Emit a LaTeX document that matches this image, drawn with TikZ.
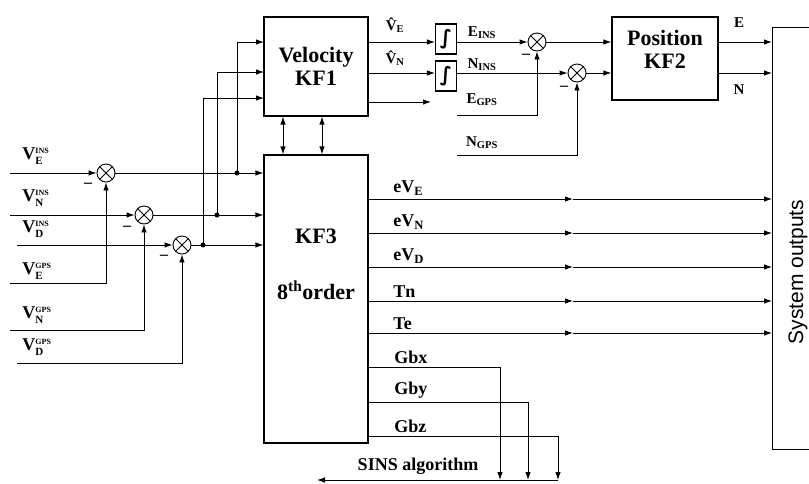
\documentclass[tikz,border=0pt]{standalone}
\usepackage{fontspec}
\setmainfont{Liberation Serif}
\setsansfont{Liberation Sans}
\newfontfamily\symfont{DejaVu Sans}
\usetikzlibrary{arrows.meta}

\newcommand{\vsig}[2]{V$^{\mbox{\fontsize{8}{8}\selectfont #2}}_{\mbox{\fontsize{11}{11}\selectfont #1}}$}
\newcommand{\vhat}[1]{\^{V}\textsubscript{#1}}

\tikzset{
  arr/.style={-{Latex[length=8pt,width=5.5pt]}},
  darr/.style={{Latex[length=8pt,width=5.5pt]}-{Latex[length=8pt,width=5.5pt]}},
  box/.style={draw, line width=1.2pt, align=center, font=\fontsize{22}{23}\selectfont\bfseries},
  boxtxt/.style={align=center, inner sep=0pt, font=\fontsize{22}{23}\selectfont\bfseries},
  sumnode/.style={draw, circle, minimum size=18pt, inner sep=0pt,
    path picture={\draw (path picture bounding box.north west) -- (path picture bounding box.south east)
      (path picture bounding box.north east) -- (path picture bounding box.south west);}},
  intbox/.style={draw, line width=1.2pt, minimum width=21pt, minimum height=30pt, inner sep=0pt,
    font=\symfont\bfseries\fontsize{20}{20}\selectfont},
  lab/.style={inner sep=1pt, font=\fontsize{18}{20}\selectfont\bfseries},
  slab/.style={inner sep=1pt, font=\fontsize{15}{16}\selectfont\bfseries},
  vlab/.style={anchor=west, inner sep=0pt, font=\fontsize{18}{20}\selectfont\bfseries},
  minus/.style={inner sep=0pt, font=\fontsize{16}{16}\selectfont\bfseries},
  dot/.style={circle, fill, inner sep=0pt, minimum size=5pt}
}

\begin{document}
\begin{tikzpicture}[x=1pt, y=-1pt, line width=0.9pt]
    \useasboundingbox (0,0) rectangle (809,483);
    % Bloques de los filtros
    \node[box, minimum width=104, minimum height=99] (kf1) at (316,66.5) {Velocity\\KF1};
    \node[box, minimum width=104, minimum height=288] (kf3) at (316,299) {};
    \node[boxtxt] (kf3t) at (316,264) {KF3\\[33pt]8\textsuperscript{th}order};
    \node[box, minimum width=106, minimum height=83] (kf2) at (665,58.5) {};
    \node[boxtxt] (kf2t) at (665,49) {Position\\KF2};
    \node[box, anchor=north west, minimum width=60, minimum height=422] (sys) at (772,27) {};
    \node[rotate=90, font=\sffamily\fontsize{21}{24}\selectfont] (syst) at (798,272) {System outputs};
    % Sumadores
    \node[sumnode] (s1) at (106,173) {};
    \node[sumnode] (s2) at (144,215) {};
    \node[sumnode] (s3) at (182,245) {};
    \node[sumnode] (s4) at (537,42) {};
    \node[sumnode] (s5) at (577,73) {};
    \node[minus] (m1) at (88,185) {--};
    \node[minus] (m2) at (127,228) {--};
    \node[minus] (m3) at (164,257) {--};
    \node[minus] (m4) at (526,56) {--};
    \node[minus] (m5) at (564,88) {--};
    % Integradores
    \node[intbox] (i1) at (446,39) {∫};
    \node[intbox] (i2) at (446,76) {∫};

    % Entradas INS y GPS
    \node[vlab] (lve) at (22,156) {\vsig{E}{INS}};
    \node[vlab] (lvn) at (22,198) {\vsig{N}{INS}};
    \node[vlab] (lvd) at (22,229) {\vsig{D}{INS}};
    \node[vlab] (lge) at (22,271) {\vsig{E}{GPS}};
    \node[vlab] (lgn) at (22,315) {\vsig{N}{GPS}};
    \node[vlab] (lgd) at (22,347) {\vsig{D}{GPS}};
    \coordinate (ve) at (10,173);
    \coordinate (vn) at (10,215);
    \coordinate (vd) at (17,245);
    \coordinate (ge) at (10,283);
    \coordinate (gn) at (10,330);
    \coordinate (gd) at (17,363);
    \draw[arr] (ve) -- (s1);
    \draw[arr] (vn) -- (s2);
    \draw[arr] (vd) -- (s3);
    \draw[arr] (ge) -| (s1);
    \draw[arr] (gn) -| (s2);
    \draw[arr] (gd) -| (s3);

    % Errores hacia KF3 y KF1
    \draw[arr] (s1) -- (s1 -| kf3.west);
    \draw[arr] (s2) -- (s2 -| kf3.west);
    \draw[arr] (s3) -- (s3 -| kf3.west);
    \node[dot] (d1) at (237,173) {};
    \node[dot] (d2) at (217,215) {};
    \node[dot] (d3) at (203,245) {};
    \coordinate (k1) at (264,42);
    \coordinate (k2) at (264,72);
    \coordinate (k3) at (264,98);
    \draw[arr] (d1.center) |- (k1);
    \draw[arr] (d2.center) |- (k2);
    \draw[arr] (d3.center) |- (k3);
    \draw[darr] ([xshift=-33]kf1.south) -- ([xshift=-33]kf3.north);
    \draw[darr] ([xshift=6]kf1.south) -- ([xshift=6]kf3.north);

    % Salidas de KF1 e integradores
    \coordinate (v1) at (368,42);
    \coordinate (v2) at (368,73);
    \coordinate (v3) at (368,102);
    \coordinate (v3e) at (431,102);
    \draw[arr] (v1) -- (v1 -| i1.west);
    \draw[arr] (v2) -- (v2 -| i2.west);
    \draw[arr] (v3) -- (v3e);
    \node[slab] (lv1) at (395,25) {\vhat{E}};
    \node[slab] (lv2) at (395,58) {\vhat{N}};
    \draw[arr] (i1.east |- s4) -- (s4);
    \draw[arr] (i2.east |- s5) -- (s5);
    \node[slab] (lei) at (482,33) {E\textsubscript{INS}};
    \node[slab] (lni) at (482,65) {N\textsubscript{INS}};
    \node[slab] (leg) at (482,100) {E\textsubscript{GPS}};
    \node[slab] (lng) at (482,143) {N\textsubscript{GPS}};
    \coordinate (eg) at (457,115);
    \coordinate (ng) at (457,155);
    \draw[arr] (eg) -| (s4);
    \draw[arr] (ng) -| (s5);

    % Posicion KF2
    \draw[arr] (s4) -- (s4 -| kf2.west);
    \draw[arr] (s5) -- (s5 -| kf2.west);
    \draw[arr] (kf2.east |- s4) -- (sys.west |- s4);
    \draw[arr] (kf2.east |- s5) -- (sys.west |- s5);
    \node[slab] (lpe) at (739,23) {E};
    \node[slab] (lpn) at (739,90) {N};

    % Salidas de KF3
    \foreach \yy/\txt [count=\i] in {199/eV\textsubscript{E}, 233/eV\textsubscript{N}, 267/eV\textsubscript{D}, 301/Tn, 333/Te} {
        \coordinate (o\i) at (368,\yy);
        \coordinate (c\i) at (573,\yy);
        \draw[arr] (o\i) -- (c\i);
        \draw[arr] (c\i) -- (sys.west |- o\i);
        \node[lab, anchor=south west] (lo\i) at (392,\yy-2) {\txt};
    }
    % Sesgos hacia el algoritmo SINS
    \foreach \yy/\xx/\txt [count=\i] in {367/500/Gbx, 402/528/Gby, 436/558/Gbz} {
        \coordinate (g\i) at (368,\yy);
        \coordinate (b\i) at (\xx,480);
        \draw[arr] (g\i) -| (b\i);
        \node[lab, anchor=south west] (lg\i) at (393,\yy-2) {\txt};
    }
    \draw[arr] (b3) -- (317,480) coordinate (sins);
    \node[lab] (lsins) at (418,466) {SINS algorithm};
\end{tikzpicture}
\end{document}
